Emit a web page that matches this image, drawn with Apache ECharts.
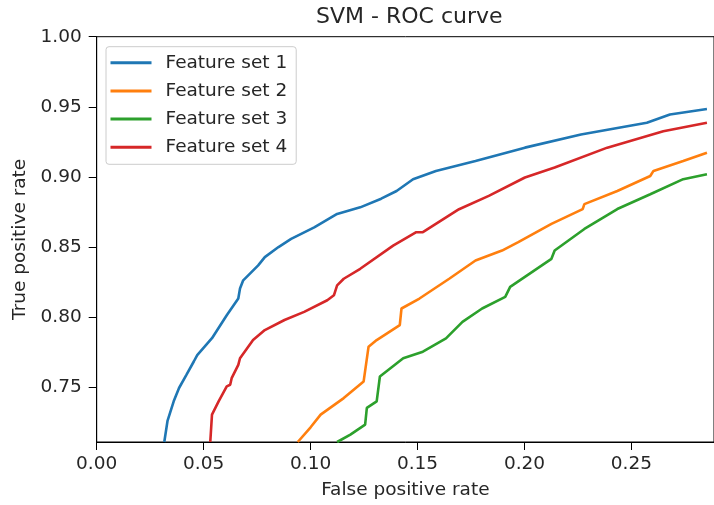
<!DOCTYPE html>
<html>
<head>
<meta charset="utf-8">
<script src="https://cdn.jsdelivr.net/npm/echarts@6/dist/echarts.min.js"></script>
<style>html,body{margin:0;padding:0;background:#fff;}#c{width:714px;height:505px;}</style>
</head>
<body>
<div id="c"></div>
<script>
var seriesNames = ['Feature set 1', 'Feature set 2', 'Feature set 3', 'Feature set 4'];
var xTicks = [0, 0.05, 0.10, 0.15, 0.20, 0.25];
var yTicks = [0.75, 0.80, 0.85, 0.90, 0.95, 1.00];

var fs1X = [0.0316,0.0331,0.0360,0.0385,0.0420,0.0454,0.0470,0.0539,0.0608,0.0662,0.0670,0.0685,0.0755,0.0786,0.0850,0.0909,0.1017,0.1124,0.1232,0.1330,0.1402,0.1479,0.1586,0.1771,0.2002,0.2264,0.2572,0.2680,0.2853];
var fs1Y = [0.711,0.726,0.740,0.7495,0.759,0.7684,0.773,0.785,0.8014,0.8133,0.8204,0.8263,0.8369,0.8428,0.850,0.8558,0.8641,0.8736,0.8783,0.8845,0.890,0.8984,0.9043,0.9113,0.9209,0.9303,0.9386,0.9445,0.9485];

var fs2X = [0.0940,0.1000,0.1047,0.1155,0.1248,0.1271,0.1309,0.1417,0.1425,0.1509,0.1648,0.1771,0.1895,0.1971,0.2126,0.2272,0.2280,0.2434,0.2588,0.2603,0.2742,0.2853];
var fs2Y = [0.711,0.7215,0.7305,0.7423,0.7542,0.779,0.7837,0.7943,0.8062,0.8133,0.8274,0.8404,0.8475,0.8535,0.8665,0.8771,0.8806,0.890,0.9007,0.9043,0.9113,0.9173];

var fs3X = [0.1124,0.1186,0.1255,0.1263,0.1309,0.1324,0.1433,0.1525,0.1633,0.1710,0.1802,0.1910,0.1933,0.2126,0.2141,0.2280,0.2434,0.2588,0.2742,0.2853];
var fs3Y = [0.711,0.7163,0.7234,0.7353,0.740,0.7577,0.7707,0.7754,0.7849,0.7967,0.8062,0.8145,0.8216,0.8416,0.8475,0.8629,0.8771,0.8877,0.8984,0.9019];

var fs4X = [0.0531,0.0539,0.0570,0.0608,0.0624,0.0631,0.0662,0.0670,0.0731,0.0786,0.0878,0.0970,0.1078,0.1109,0.1124,0.1155,0.1232,0.1386,0.1494,0.1525,0.1694,0.1833,0.2002,0.2141,0.2387,0.2649,0.2853];
var fs4Y = [0.711,0.7305,0.740,0.7507,0.7518,0.7565,0.766,0.7707,0.7837,0.7908,0.798,0.8038,0.8121,0.8156,0.8227,0.8274,0.8345,0.851,0.8606,0.8606,0.877,0.8865,0.8996,0.9067,0.9209,0.9326,0.9386];

var colors = ['#1f77b4', '#ff7f0e', '#2ca02c', '#d62728'];
var allX = [fs1X, fs2X, fs3X, fs4X];
var allY = [fs1Y, fs2Y, fs3Y, fs4Y];

function pairs(xs, ys) { return xs.map(function (x, i) { return [x, ys[i]]; }); }

var FONT = 'DejaVu Sans';
var TXT = '#262626';

var chart = echarts.init(document.getElementById('c'), null, { renderer: 'canvas' });
chart.setOption({
  animation: false,
  backgroundColor: '#fff',
  textStyle: { fontFamily: FONT },
  title: {
    text: 'SVM - ROC curve',
    left: 316, top: 6, padding: 0,
    textStyle: { fontFamily: FONT, fontSize: 22, fontWeight: 'normal', color: TXT }
  },
  legend: {
    orient: 'vertical',
    left: 106, top: 46.7,
    padding: [5, 9, 6, 4.5],
    itemWidth: 41, itemHeight: 3, itemGap: 6.2,
    icon: 'rect',
    backgroundColor: 'rgba(255,255,255,0.8)',
    borderColor: '#cccccc', borderWidth: 1, borderRadius: 3,
    textStyle: { fontFamily: FONT, fontSize: 18.5, color: TXT, lineHeight: 22, padding: [0, 0, 0, 9] },
    data: seriesNames
  },
  grid: {
    left: 96.7, right: -7.3, top: 36.7, bottom: 60.7,
    show: true, borderColor: '#000', borderWidth: 1, backgroundColor: 'transparent'
  },
  xAxis: {
    type: 'value', min: 0, max: 0.2886,
    name: 'False positive rate', nameLocation: 'middle', nameGap: 39,
    nameTextStyle: { fontFamily: FONT, fontSize: 18.5, color: TXT },
    axisLine: { show: true, lineStyle: { color: '#000', width: 1 } },
    axisTick: { show: true, length: 8, inside: false, lineStyle: { color: '#000' }, customValues: xTicks },
    axisLabel: { fontFamily: FONT, fontSize: 18.5, color: TXT, margin: 13, customValues: xTicks,
      formatter: function (v) { return v.toFixed(2); } },
    splitLine: { show: false }
  },
  yAxis: {
    type: 'value', min: 0.711, max: 1.0,
    name: 'True positive rate', nameLocation: 'middle', nameGap: 66, nameRotate: 90,
    nameTextStyle: { fontFamily: FONT, fontSize: 18.5, color: TXT },
    axisLine: { show: true, lineStyle: { color: '#000', width: 1 } },
    axisTick: { show: true, length: 8, inside: false, lineStyle: { color: '#000' }, customValues: yTicks },
    axisLabel: { fontFamily: FONT, fontSize: 18.5, color: TXT, margin: 15, customValues: yTicks,
      formatter: function (v) { return v.toFixed(2); } },
    splitLine: { show: false }
  },
  series: seriesNames.map(function (n, i) {
    return {
      name: n, type: 'line', data: pairs(allX[i], allY[i]),
      showSymbol: false, symbol: 'none', clip: true,
      lineStyle: { color: colors[i], width: 2.6 },
      itemStyle: { color: colors[i] },
      z: 2
    };
  })
});
</script>
</body>
</html>
